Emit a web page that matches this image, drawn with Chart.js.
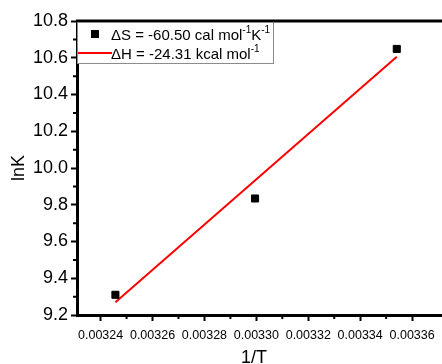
<!DOCTYPE html>
<html>
<head>
<meta charset="utf-8">
<script src="https://cdn.jsdelivr.net/npm/chart.js@4.4.0/dist/chart.umd.min.js"></script>
<style>
  html, body { margin: 0; padding: 0; background: #fff; }
  #wrap { width: 442px; height: 364px; position: relative; }
</style>
</head>
<body>
<div id="wrap"><canvas id="myChart" width="442" height="364"></canvas></div>
<script>
// measured points
var invT = [0.0032457, 0.0032995, 0.0033541];
var lnK = [9.31, 9.834, 10.648];

// fitted line ends
var fitX = [0.0032457, 0.0033541];
var fitY = [9.27, 10.605];

var xMajor = [0.00324, 0.00326, 0.00328, 0.0033, 0.00332, 0.00334, 0.00336];
var xMinor = [0.00323, 0.00325, 0.00327, 0.00329, 0.00331, 0.00333, 0.00335];
var yMajor = [9.2, 9.4, 9.6, 9.8, 10.0, 10.2, 10.4, 10.6, 10.8];
var yMinor = [9.3, 9.5, 9.7, 9.9, 10.1, 10.3, 10.5, 10.7];

var legendRows = [
  [["\u0394S = -60.50 cal mol", 0], ["-1", 1], ["K", 0], ["-1", 1]],
  [["\u0394H = -24.31 kcal mol", 0], ["-1", 1]]
];

var FONT = "Arial, 'Liberation Sans', sans-serif";

const frameAndLegend = {
  id: "frameAndLegend",
  afterDraw: function (chart) {
    var ctx = chart.ctx;
    var a = chart.chartArea;
    var xs = chart.scales.x, ys = chart.scales.y;
    ctx.save();
    // top frame line, and bottom axis running on to the edge
    ctx.strokeStyle = "#000";
    ctx.lineWidth = 3;
    ctx.beginPath();
    ctx.moveTo(a.left - 1, a.top);
    ctx.lineTo(chart.width, a.top);
    ctx.moveTo(a.right - 2, a.bottom + 0.5);
    ctx.lineTo(chart.width, a.bottom + 0.5);
    ctx.stroke();

    // minor ticks
    ctx.lineWidth = 2;
    ctx.beginPath();
    xMinor.forEach(function (v) {
      var px = xs.getPixelForValue(v);
      if (px < a.left + 2) return;
      ctx.moveTo(px, a.bottom);
      ctx.lineTo(px, a.bottom + 4);
    });
    yMinor.forEach(function (v) {
      var py = ys.getPixelForValue(v);
      ctx.moveTo(a.left, py);
      ctx.lineTo(a.left - 4, py);
    });
    ctx.stroke();

    // legend box
    var bx = a.left, by = a.top + 1, bw = 197, bh = 42;
    ctx.fillStyle = "#fff";
    ctx.fillRect(bx, by, bw, bh);
    ctx.strokeStyle = "#8c8c8c";
    ctx.lineWidth = 1;
    ctx.strokeRect(bx + 0.5, by + 0.5, bw - 1, bh - 1);

    // symbols
    ctx.fillStyle = "#000";
    ctx.fillRect(91, 30, 8, 8);
    ctx.strokeStyle = "#ff0000";
    ctx.lineWidth = 2;
    ctx.beginPath();
    ctx.moveTo(a.left + 1, 53);
    ctx.lineTo(112, 53);
    ctx.stroke();

    // texts
    ctx.fillStyle = "#000";
    ctx.textBaseline = "alphabetic";
    ctx.textAlign = "left";
    var baselines = [40, 59];
    legendRows.forEach(function (row, i) {
      var x = 111;
      row.forEach(function (part) {
        if (part[1]) {
          ctx.font = "10px " + FONT;
          ctx.fillText(part[0], x, baselines[i] - 7);
        } else {
          ctx.font = "15px " + FONT;
          ctx.fillText(part[0], x, baselines[i]);
        }
        x += ctx.measureText(part[0]).width;
      });
    });
    ctx.restore();
  }
};

var ctx = document.getElementById("myChart").getContext("2d");
let chart = new Chart(ctx, {
  type: "scatter",
  data: {
    datasets: [
      {
        label: "lnK",
        data: invT.map(function (x, i) { return { x: x, y: lnK[i] }; }),
        pointStyle: "rect",
        pointRadius: 5,
        backgroundColor: "#000",
        borderColor: "#000",
        borderWidth: 1,
        showLine: false
      },
      {
        label: "fit",
        data: fitX.map(function (x, i) { return { x: x, y: fitY[i] }; }),
        showLine: true,
        borderColor: "#ff0000",
        borderWidth: 2,
        pointRadius: 0,
        fill: false
      }
    ]
  },
  options: {
    responsive: false,
    animation: false,
    layout: { padding: { left: 0, top: 21, right: 0, bottom: 0 } },
    plugins: { legend: { display: false }, tooltip: { enabled: false } },
    scales: {
      x: {
        type: "linear",
        min: 0.0032309,
        max: 0.0033672,
        afterBuildTicks: function (s) { s.ticks = xMajor.map(function (v) { return { value: v }; }); },
        afterFit: function (s) { s.height = 49; },
        border: { display: true, color: "#000", width: 3 },
        grid: { drawOnChartArea: false, drawTicks: true, tickLength: 6, tickColor: "#000", tickWidth: 2 },
        ticks: {
          color: "#000",
          font: { family: FONT, size: 12.5 },
          padding: 7,
          maxRotation: 0,
          autoSkip: false,
          callback: function (v) { return v.toFixed(5); }
        },
        title: { display: true, text: "1/T", color: "#000", font: { family: FONT, size: 18 }, padding: { top: 0, bottom: -5 } }
      },
      y: {
        type: "linear",
        min: 9.2,
        max: 10.8,
        afterBuildTicks: function (s) { s.ticks = yMajor.map(function (v) { return { value: v }; }); },
        afterFit: function (s) { s.width = 77; },
        border: { display: true, color: "#000", width: 3 },
        grid: { drawOnChartArea: false, drawTicks: true, tickLength: 6, tickColor: "#000", tickWidth: 2 },
        ticks: {
          color: "#000",
          font: { family: FONT, size: 18 },
          padding: 3,
          callback: function (v) { return v.toFixed(1); }
        },
        title: { display: true, text: "lnK", color: "#000", font: { family: FONT, size: 18 }, padding: { top: 8, bottom: 0 } }
      }
    }
  },
  plugins: [frameAndLegend]
});
</script>
</body>
</html>
